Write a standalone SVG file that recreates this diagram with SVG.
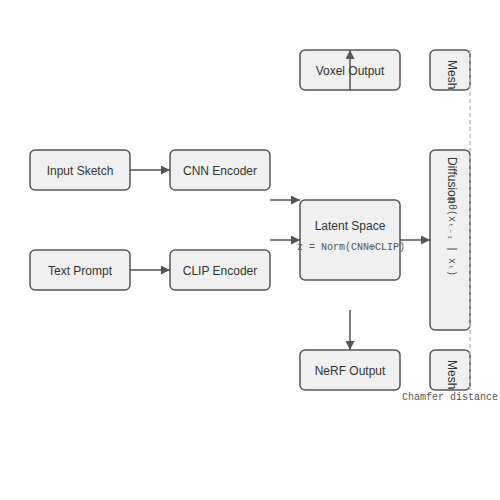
<svg xmlns="http://www.w3.org/2000/svg" width="500" height="500" viewBox="0 0 500 500">
<defs>
<marker id="arr" viewBox="0 0 10 10" refX="10" refY="5" markerWidth="9" markerHeight="9" markerUnits="userSpaceOnUse" orient="auto">
<path d="M0,0 L10,5 L0,10 z" fill="#555"/>
</marker>
<style>
.box{fill:#f0f0f0;stroke:#555;stroke-width:1.5}
.lbl{font-family:"Liberation Sans",Arial,sans-serif;font-size:12px;fill:#333;text-anchor:middle}
.vlbl{font-family:"Liberation Sans",Arial,sans-serif;font-size:12px;fill:#333}
.mono{font-family:"Liberation Mono","DejaVu Sans Mono",monospace;font-size:10px;fill:#555}
.edge{stroke:#555;stroke-width:1.5;fill:none;marker-end:url(#arr)}
.dash{stroke:#bbb;stroke-width:1.5;stroke-dasharray:4,3;fill:none}
</style>
</defs>
<rect width="500" height="500" fill="#fff"/>
<g id="input-sketch"><rect class="box" x="30" y="150" width="100" height="40" rx="5"/><text class="lbl" x="80" y="174.5">Input Sketch</text></g>
<g id="cnn-encoder"><rect class="box" x="170" y="150" width="100" height="40" rx="5"/><text class="lbl" x="220" y="174.5">CNN Encoder</text></g>
<g id="text-prompt"><rect class="box" x="30" y="250" width="100" height="40" rx="5"/><text class="lbl" x="80" y="274.5">Text Prompt</text></g>
<g id="clip-encoder"><rect class="box" x="170" y="250" width="100" height="40" rx="5"/><text class="lbl" x="220" y="274.5">CLIP Encoder</text></g>
<g id="latent-space"><rect class="box" x="300" y="200" width="100" height="80" rx="5"/><text class="lbl" x="350" y="230">Latent Space</text><text class="mono" x="351" y="250" text-anchor="middle">z = Norm(CNN⊕CLIP)</text></g>
<g id="voxel-output"><rect class="box" x="300" y="50" width="100" height="40" rx="5"/><text class="lbl" x="350" y="74.5">Voxel Output</text></g>
<g id="mesh-top"><rect class="box" x="430" y="50" width="40" height="40" rx="5"/><text class="vlbl" transform="translate(448,60) rotate(90)">Mesh</text></g>
<g id="diffusion"><rect class="box" x="430" y="150" width="40" height="180" rx="5"/><text class="vlbl" transform="translate(448,157) rotate(90)">Diffusion</text><text class="mono" transform="translate(449,198) rotate(90)">pθ(xₜ₋₁ | xₜ)</text></g>
<g id="nerf-output"><rect class="box" x="300" y="350" width="100" height="40" rx="5"/><text class="lbl" x="350" y="374.5">NeRF Output</text></g>
<g id="mesh-bottom"><rect class="box" x="430" y="350" width="40" height="40" rx="5"/><text class="vlbl" transform="translate(448,360) rotate(90)">Mesh</text><text class="mono" x="450" y="400" text-anchor="middle">Chamfer distance</text></g>
<g id="connectors">
<line class="edge" x1="130" y1="170" x2="170" y2="170"/>
<line class="edge" x1="130" y1="270" x2="170" y2="270"/>
<line class="edge" x1="270" y1="200" x2="300" y2="200"/>
<line class="edge" x1="270" y1="240" x2="300" y2="240"/>
<line class="edge" x1="400" y1="240" x2="430" y2="240"/>
<line class="edge" x1="350" y1="90" x2="350" y2="50"/>
<line class="edge" x1="350" y1="310" x2="350" y2="350"/>
<line class="dash" x1="470" y1="50" x2="470" y2="390"/>
</g>
</svg>
